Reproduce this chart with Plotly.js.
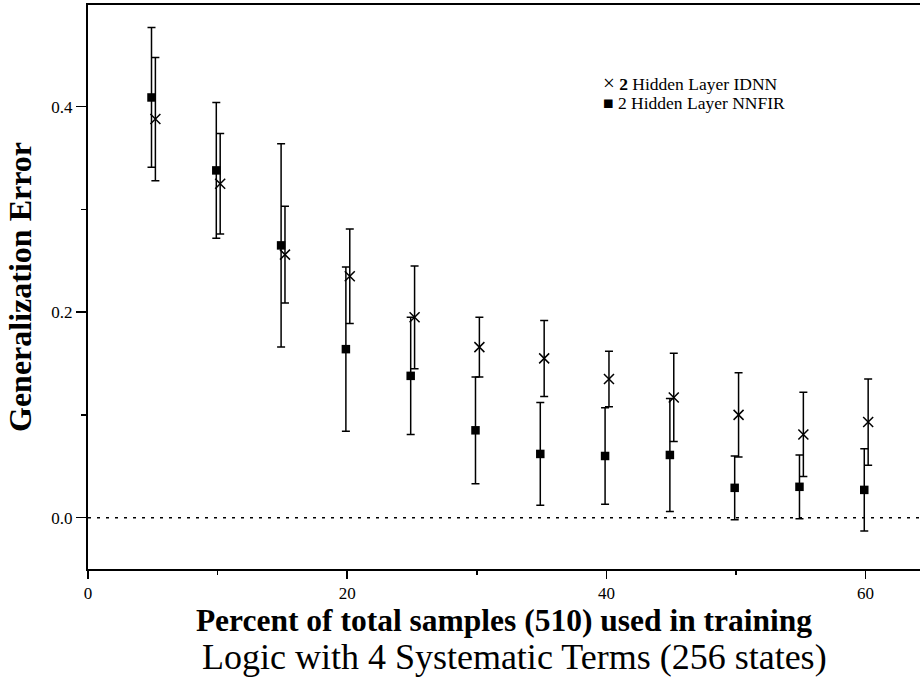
<!DOCTYPE html>
<html>
<head>
<meta charset="utf-8">
<script src="https://cdn.plot.ly/plotly-3.0.1.min.js"></script>
<style>html,body{margin:0;padding:0;background:#fff;}#chart{width:920px;height:679px;}</style>
</head>
<body>
<div id="chart"></div>
<script>
// Percent of total samples used in training
const pct = [5, 10, 15, 20, 25, 30, 35, 40, 45, 50, 55, 60];
// 2 Hidden Layer IDNN
const idnnMean = [0.388, 0.325, 0.256, 0.235, 0.195, 0.166, 0.155, 0.135, 0.117, 0.100, 0.081, 0.093];
const idnnErr  = [0.060, 0.049, 0.047, 0.046, 0.050, 0.029, 0.037, 0.027, 0.043, 0.041, 0.041, 0.042];
// 2 Hidden Layer NNFIR
const nnfirMean = [0.409, 0.338, 0.265, 0.164, 0.138, 0.085, 0.062, 0.060, 0.061, 0.029, 0.030, 0.027];
const nnfirErr  = [0.068, 0.066, 0.099, 0.080, 0.057, 0.052, 0.050, 0.047, 0.055, 0.031, 0.031, 0.040];
const xTickVals = [0, 20, 40, 60];
const yTickVals = [0.0, 0.2, 0.4];
const legendTexts = ['<span style="font-size:21px">\u00d7</span> <b>2</b> Hidden Layer IDNN', '\u25a0 2 Hidden Layer NNFIR'];

// small horizontal offsets so the two series do not overlap (display only)
const idnnShift = 0.2, nnfirShift = -0.1;

const FONT = 'Liberation Serif';

const traces = [
  {
    type: 'scatter', mode: 'markers', name: '2 Hidden Layer NNFIR',
    x: pct.map(p => p + nnfirShift), y: nnfirMean,
    marker: {symbol: 'square', size: 8.5, color: '#000'},
    error_y: {type: 'data', array: nnfirErr, visible: true, color: '#000', thickness: 1.5, width: 4},
    showlegend: false
  },
  {
    type: 'scatter', mode: 'markers', name: '2 Hidden Layer IDNN',
    x: pct.map(p => p + idnnShift), y: idnnMean,
    marker: {symbol: 'x-thin', size: 10, color: '#000', line: {color: '#000', width: 1.5}},
    error_y: {type: 'data', array: idnnErr, visible: true, color: '#000', thickness: 1.5, width: 4},
    showlegend: false
  }
];

const layout = {
  width: 920, height: 679,
  margin: {l: 88, r: 0, t: 5, b: 110},
  paper_bgcolor: '#fff', plot_bgcolor: '#fff',
  font: {family: FONT, color: '#000'},
  title: {
    text: 'Logic with 4 Systematic Terms (256 states)',
    font: {family: FONT, size: 36, color: '#000'},
    xref: 'container', x: 0.559, xanchor: 'center',
    yref: 'container', y: 0.034, yanchor: 'middle'
  },
  xaxis: {
    range: [0, 64.2],
    tickvals: xTickVals,
    ticks: 'outside', ticklen: 8, tickwidth: 1.5, tickcolor: '#000',
    minor: {dtick: 10, tick0: 0, ticks: 'outside', ticklen: 4, tickwidth: 1.5, tickcolor: '#000'},
    showline: true, linecolor: '#000', linewidth: 2, mirror: true,
    showgrid: false, zeroline: false,
    tickfont: {family: FONT, size: 17, color: '#000'},
    title: {text: '<b>Percent of total samples (510) used in training</b>', font: {family: FONT, size: 31.5, color: '#000'}, standoff: 7}
  },
  yaxis: {
    range: [-0.05, 0.499],
    tickvals: yTickVals, tickformat: '.1f',
    ticks: 'outside', ticklen: 10, tickwidth: 1.5, tickcolor: '#000',
    minor: {dtick: 0.1, tick0: 0, ticks: 'outside', ticklen: 5, tickwidth: 1.5, tickcolor: '#000'},
    showline: true, linecolor: '#000', linewidth: 2,
    showgrid: false, zeroline: false,
    tickfont: {family: FONT, size: 17, color: '#000'},
    title: {text: '<b>Generalization Error</b>', font: {family: FONT, size: 32, color: '#000'}, standoff: 10}
  },
  shapes: [
    {type: 'line', xref: 'paper', x0: 0, x1: 1, yref: 'y', y0: 0, y1: 0,
     line: {color: '#000', width: 1.5, dash: '3px,6px'}, layer: 'below'}
  ],
  annotations: legendTexts.map((t, i) => ({
    text: t, xref: 'paper', yref: 'paper', x: 0.617, y: 0.861 - i * 0.0355,
    xanchor: 'left', yanchor: 'middle', showarrow: false,
    font: {family: FONT, size: 17.5, color: '#000'}
  }))
};

Plotly.newPlot('chart', traces, layout, {displayModeBar: false, staticPlot: true});
</script>
</body>
</html>
